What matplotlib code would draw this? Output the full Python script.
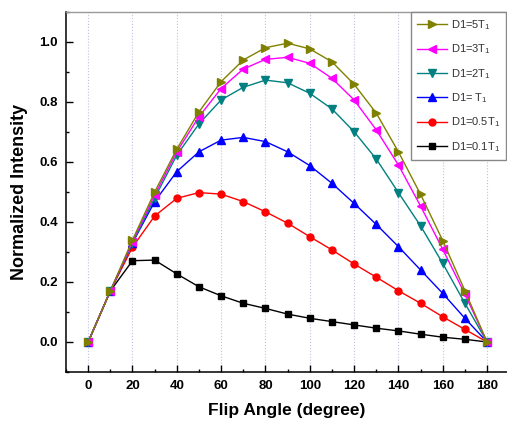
import matplotlib
matplotlib.use("Agg")
import matplotlib.pyplot as plt
from matplotlib.ticker import MultipleLocator

# flip angles (degree)
angles = [0, 10, 20, 30, 40, 50, 60, 70, 80, 90, 100, 110, 120, 130, 140, 150, 160, 170, 180]

# normalized intensity for each D1 value
d1_5t1 = [0, 0.17, 0.34, 0.50, 0.643, 0.767, 0.868, 0.94, 0.981, 0.996, 0.977, 0.934, 0.859, 0.763, 0.634, 0.492, 0.338, 0.171, 0]
d1_3t1 = [0, 0.17, 0.335, 0.49, 0.634, 0.751, 0.845, 0.91, 0.942, 0.949, 0.929, 0.879, 0.807, 0.707, 0.59, 0.453, 0.309, 0.16, 0]
d1_2t1 = [0, 0.17, 0.33, 0.48, 0.623, 0.727, 0.807, 0.849, 0.873, 0.864, 0.829, 0.777, 0.701, 0.61, 0.498, 0.387, 0.262, 0.129, 0]
d1_1t1 = [0, 0.17, 0.33, 0.468, 0.568, 0.634, 0.673, 0.682, 0.668, 0.634, 0.588, 0.529, 0.462, 0.392, 0.318, 0.24, 0.162, 0.079, 0]
d1_05t1 = [0, 0.17, 0.316, 0.42, 0.479, 0.498, 0.493, 0.468, 0.434, 0.396, 0.351, 0.307, 0.26, 0.216, 0.171, 0.129, 0.084, 0.042, 0]
d1_01t1 = [0, 0.17, 0.271, 0.273, 0.227, 0.184, 0.154, 0.129, 0.112, 0.093, 0.079, 0.068, 0.057, 0.046, 0.037, 0.026, 0.016, 0.009, 0]

labels = ["D1=5T$_1$", "D1=3T$_1$", "D1=2T$_1$", "D1= T$_1$", "D1=0.5T$_1$", "D1=0.1T$_1$"]
series = [d1_5t1, d1_3t1, d1_2t1, d1_1t1, d1_05t1, d1_01t1]
colors = ["#808000", "#ff00ff", "#008080", "#0000ff", "#ff0000", "#000000"]
markers = [">", "<", "v", "^", "o", "s"]
msizes = [5.5, 5.5, 5.5, 5.5, 5, 4.5]

plt.rcParams["font.family"] = ["Liberation Sans", "DejaVu Sans"]
plt.rcParams["mathtext.fontset"] = "custom"
plt.rcParams["mathtext.rm"] = "Liberation Sans"

fig = plt.figure(figsize=(5.07, 4.26), dpi=100)
ax = fig.add_axes([66 / 507, 54 / 426, (507 - 66) / 507, 360 / 426])

handles = []
# draw the smallest D1 first so the olive curve ends up on top
for vals, lab, col, mk, ms in reversed(list(zip(series, labels, colors, markers, msizes))):
    h, = ax.plot(angles, vals, color=col, marker=mk, markersize=ms,
                 linewidth=1.0, label=lab)
    handles.append(h)
handles = handles[::-1]

ax.set_xlim(-10, 189)
ax.set_ylim(-0.1, 1.1)
ax.xaxis.set_major_locator(MultipleLocator(20))
ax.xaxis.set_minor_locator(MultipleLocator(10))
ax.yaxis.set_major_locator(MultipleLocator(0.2))
ax.yaxis.set_minor_locator(MultipleLocator(0.1))
ax.set_yticks([0.0, 0.2, 0.4, 0.6, 0.8, 1.0])
ax.set_yticklabels(["0.0", "0.2", "0.4", "0.6", "0.8", "1.0"])

ax.grid(axis="x", which="major", color="#c0c0e0", linestyle=":", linewidth=0.8)
ax.set_axisbelow(True)

ax.tick_params(which="major", direction="in", length=5, width=1.0, labelsize=9.5, pad=6)
ax.tick_params(which="minor", direction="in", length=2.5, width=1.0)
for lbl in ax.get_xticklabels() + ax.get_yticklabels():
    lbl.set_fontweight("bold")

ax.spines["right"].set_visible(False)
ax.spines["top"].set_color("#999999")
ax.spines["top"].set_linewidth(1.0)
ax.spines["left"].set_linewidth(1.1)
ax.spines["bottom"].set_linewidth(1.1)

ax.set_xlabel("Flip Angle (degree)", fontsize=12.5, fontweight="bold", labelpad=8)
ax.set_ylabel("Normalized Intensity", fontsize=13, fontweight="bold", labelpad=8)

leg = ax.legend(handles=handles, loc="upper right",
                bbox_to_anchor=(506 / 507, 1 - 12 / 426),
                bbox_transform=fig.transFigure, borderaxespad=0,
                fontsize=8, handlelength=2.7, handletextpad=0.3,
                labelspacing=0.95, borderpad=0.55, fancybox=False,
                numpoints=1, framealpha=1)
leg.get_frame().set_edgecolor("#888888")
leg.get_frame().set_linewidth(1.0)
for t in leg.get_texts():
    t.set_color("#333333")

fig.savefig("out.png", dpi=100)
